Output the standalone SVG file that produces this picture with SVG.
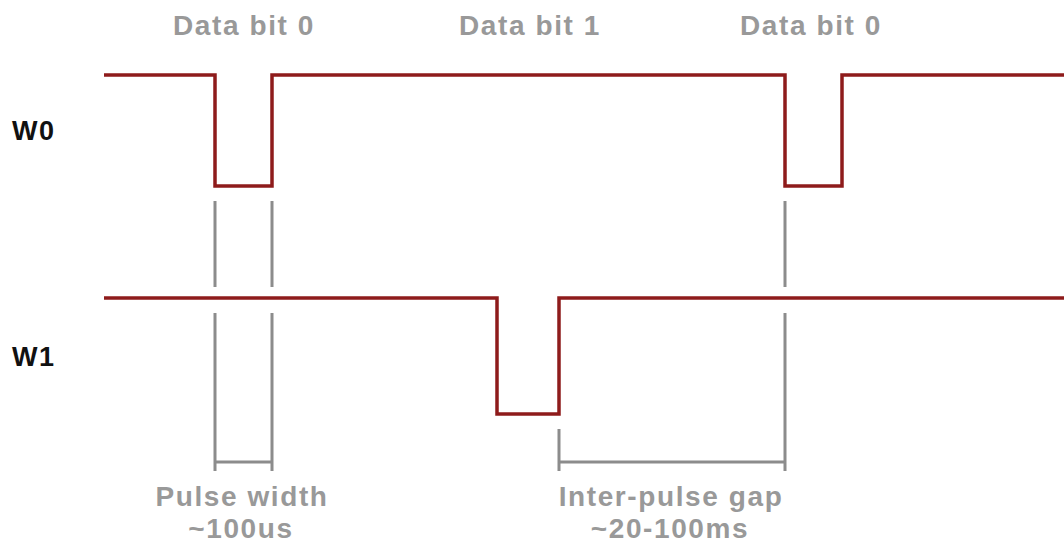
<svg xmlns="http://www.w3.org/2000/svg" width="1064" height="544" viewBox="0 0 1064 544">
<style>
.sig{fill:none;stroke:#8e1b1b;stroke-width:3.5;stroke-linejoin:miter}
.guide{fill:none;stroke:#8c8c8c;stroke-width:3}
.lbl{font-family:"Liberation Sans",Arial,sans-serif;font-weight:bold;font-size:28px;fill:#999999;letter-spacing:1.6px;text-anchor:middle}
.name{font-family:"Liberation Sans",Arial,sans-serif;font-weight:bold;font-size:27px;fill:#111111;letter-spacing:1.5px}
</style>
<rect width="1064" height="544" fill="#ffffff"/>
<g id="labels-top">
<text class="lbl" x="244" y="35">Data bit 0</text>
<text class="lbl" x="530" y="35">Data bit 1</text>
<text class="lbl" x="811" y="35">Data bit 0</text>
</g>
<g id="W0">
<text class="name" x="12" y="140">W0</text>
<path class="sig" d="M104 75 H215 V186 H272 V75 H785 V186 H842 V75 H1064"/>
</g>
<g id="W1">
<text class="name" x="12" y="366">W1</text>
<path class="sig" d="M104 298 H497 V414 H559 V298 H1064"/>
</g>
<g id="connectors">
<path class="guide" d="M215 201 V287 M272 201 V287 M785 201 V287"/>
<path class="guide" d="M215 313 V471 M272 313 V471 M215 462 H272"/>
<path class="guide" d="M785 313 V471 M559 429 V471 M559 462 H785"/>
</g>
<g id="pulse-width">
<text class="lbl" x="242" y="506">Pulse width</text>
<text class="lbl" x="241" y="538">~100us</text>
</g>
<g id="inter-pulse-gap">
<text class="lbl" x="671" y="506">Inter-pulse gap</text>
<text class="lbl" x="670" y="538">~20-100ms</text>
</g>
</svg>
